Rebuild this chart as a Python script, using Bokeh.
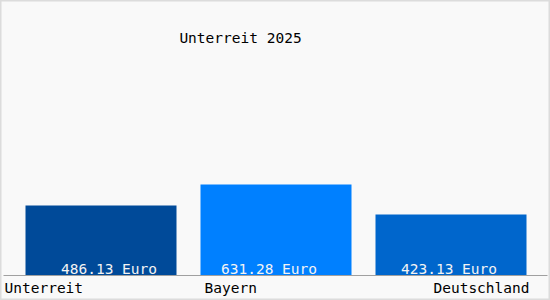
from bokeh.plotting import figure
from bokeh.models import Range1d, ColumnDataSource, Label
from bokeh.core.properties import value
from bokeh.embed import file_html
from bokeh.resources import INLINE

# data
categories = ["Unterreit", "Bayern", "Deutschland"]
values = [486.13, 631.28, 423.13]
value_labels = ["486.13 Euro", "631.28 Euro", "423.13 Euro"]
title_text = "Unterreit 2025"

# style / layout
colors = ["#004a99", "#0080ff", "#0066cc"]
FONT = "DejaVu Sans Mono"
W, H = 550, 300
base_px = 275          # pixel row of value 0
k = 0.1441             # pixels per Euro
slot = 175
bar_w = 151
first_center = 100.5
label_dx = [8, -7, -2]
cat_x = [4, 204, 529]
cat_align = ["left", "left", "right"]

centers = [first_center + i * slot for i in range(len(categories))]

p = figure(width=W, height=H, output_backend="svg", toolbar_location=None,
           x_range=Range1d(0, W), y_range=Range1d(-(H - base_px) / k, base_px / k),
           min_border=0)
p.axis.visible = False
p.grid.visible = False
p.background_fill_color = "#f9f9f9"
p.border_fill_color = "#f9f9f9"
p.outline_line_color = "#dcdcdc"
p.outline_line_width = 2

src = ColumnDataSource(dict(x=centers, top=values, color=colors,
                            lx=[c + d for c, d in zip(centers, label_dx)],
                            lab=value_labels, cat=categories, cx=cat_x,
                            calign=cat_align, zero=[0] * len(values)))

p.vbar(x="x", top="top", bottom=0, width=bar_w, fill_color="color",
       line_color=None, source=src)

p.segment(x0=3, x1=W - 3, y0=0, y1=0, line_color="#a0a0a0", line_width=1)

p.text(x="lx", y="zero", text="lab", source=src, text_align="center",
       text_baseline="alphabetic", y_offset=-7, text_color="#f4f4f4",
       text_font=value(FONT), text_font_size="14.5px")

p.text(x="cx", y="zero", text="cat", source=src, text_align="calign",
       text_baseline="alphabetic", y_offset=12, text_color="#000000",
       text_font=value(FONT), text_font_size="14.5px")

p.add_layout(Label(x=240, y=H - 37, x_units="screen", y_units="screen",
                   text=title_text, text_align="center", text_baseline="alphabetic",
                   text_font=FONT, text_font_size="14.5px", text_color="#000000"))

open("out.html", "w").write(file_html(p, INLINE))
